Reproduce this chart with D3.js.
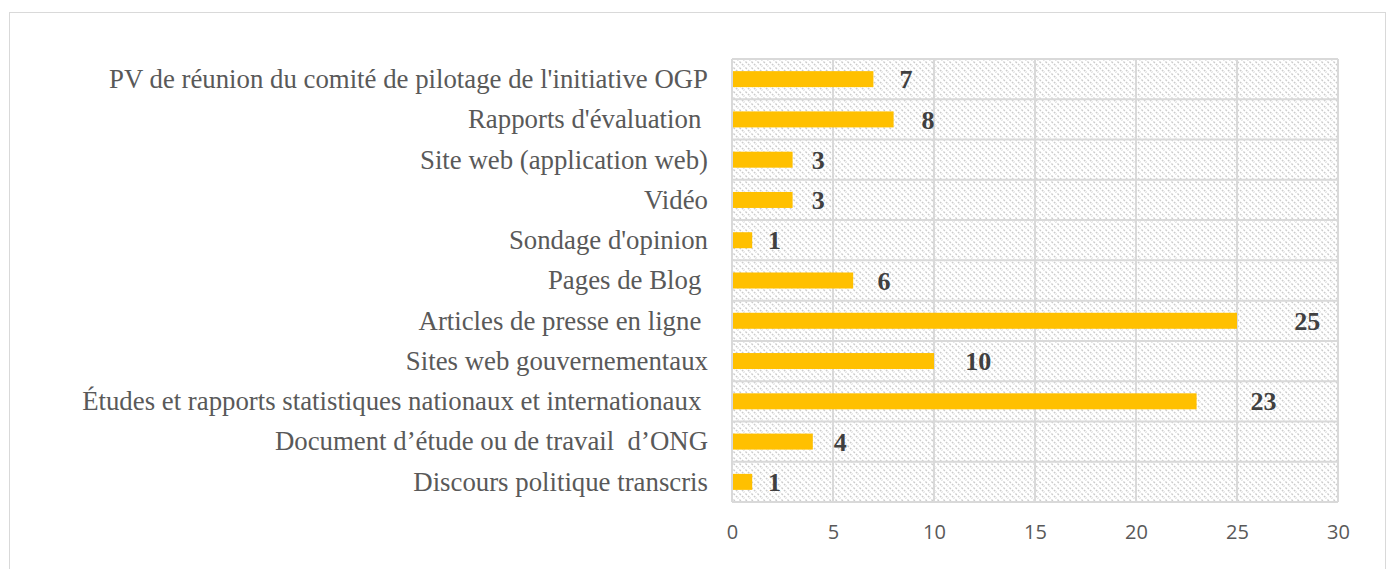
<!DOCTYPE html>
<html>
<head>
<meta charset="utf-8">
<script src="https://cdn.jsdelivr.net/npm/d3@7"></script>
<style>
  body { margin: 0; background: #fff; }
  text { white-space: pre; }
</style>
</head>
<body>
<div id="chart"></div>
<script>

var categories = [
  "PV de réunion du comité de pilotage de l'initiative OGP",
  "Rapports d'évaluation ",
  "Site web (application web)",
  "Vidéo",
  "Sondage d'opinion",
  "Pages de Blog ",
  "Articles de presse en ligne ",
  "Sites web gouvernementaux",
  "Études et rapports statistiques nationaux et internationaux ",
  "Document d’étude ou de travail  d’ONG",
  "Discours politique transcris"
];
var counts = [7, 8, 3, 3, 1, 6, 25, 10, 23, 4, 1];
var tickValues = [0, 5, 10, 15, 20, 25, 30];

var width = 1387, height = 569;
var plot = {left: 732, right: 1338, top: 59, bottom: 502};
var barColor = '#FFC000';
var gridColor = '#d9d9d9';

var svg = d3.select("#chart").append("svg")
  .attr("width", width)
  .attr("height", height);

// hatch pattern for plot background
var defs = svg.append("defs");
var pat = defs.append("pattern")
  .attr("id", "hatch")
  .attr("patternUnits", "userSpaceOnUse")
  .attr("width", 6)
  .attr("height", 6);
pat.append("rect").attr("width", 6).attr("height", 6).attr("fill", "#fff");
pat.append("path")
  .attr("d", "M-1,-1 L7,7 M-1,5 L1,7 M5,-1 L7,1")
  .attr("stroke", "#cccccc")
  .attr("stroke-width", 1.4)
  .attr("stroke-dasharray", "2,1.5");

// outer chart frame
svg.append("rect")
  .attr("x", 9.5).attr("y", 12.5)
  .attr("width", 1376).attr("height", 600)
  .attr("fill", "none")
  .attr("stroke", "#d9d9d9")
  .attr("stroke-width", 1);

var xScale = d3.scaleLinear()
  .domain([0, 30])
  .range([plot.left, plot.right]);

var yScale = d3.scaleBand()
  .domain(categories)
  .range([plot.top, plot.bottom]);

// label positions in Excel drift further out as the value grows
var labelX = d3.scaleLinear()
  .domain([0, 30])
  .range([746, 1404]);

svg.append("rect")
  .attr("x", plot.left).attr("y", plot.top)
  .attr("width", plot.right - plot.left)
  .attr("height", plot.bottom - plot.top)
  .attr("fill", "url(#hatch)");

// vertical grid
svg.append("g")
  .selectAll("line")
  .data(tickValues)
  .enter().append("line")
    .attr("x1", function(d) { return xScale(d); })
    .attr("x2", function(d) { return xScale(d); })
    .attr("y1", plot.top)
    .attr("y2", plot.bottom)
    .attr("stroke", gridColor)
    .attr("stroke-width", 2);

// horizontal grid at category boundaries
var bandH = yScale.bandwidth();
var bounds = categories.map(function(c) { return yScale(c); }).concat([plot.bottom]);
svg.append("g")
  .selectAll("line")
  .data(bounds)
  .enter().append("line")
    .attr("x1", plot.left)
    .attr("x2", plot.right)
    .attr("y1", function(d) { return d; })
    .attr("y2", function(d) { return d; })
    .attr("stroke", gridColor)
    .attr("stroke-width", 2);

var barH = 16;

svg.selectAll(".bar")
  .data(categories)
  .enter().append("rect")
    .attr("class", "bar")
    .attr("x", xScale(0) + 1)
    .attr("y", function(d) { return yScale(d) + (bandH - barH) / 2; })
    .attr("height", barH)
    .attr("width", function(d, i) { return xScale(counts[i]) - xScale(0) - 1; })
    .attr("fill", barColor);

// category labels
svg.selectAll(".cat")
  .data(categories)
  .enter().append("text")
    .attr("class", "cat")
    .attr("x", 708)
    .attr("y", function(d) { return yScale(d) + bandH / 2; })
    .attr("dy", "0.33em")
    .attr("text-anchor", "end")
    .style("font-family", "'Liberation Serif', 'Times New Roman', serif")
    .style("font-size", "26.8px")
    .style("fill", "#595959")
    .text(function(d) { return d; });

// value labels
svg.selectAll(".val")
  .data(counts)
  .enter().append("text")
    .attr("class", "val")
    .attr("x", function(d) { return labelX(d); })
    .attr("y", function(d, i) { return yScale(categories[i]) + bandH / 2; })
    .attr("dy", "0.35em")
    .style("font-family", "'Liberation Serif', 'Times New Roman', serif")
    .style("font-size", "26px")
    .style("font-weight", "bold")
    .style("fill", "#404040")
    .text(function(d) { return d; });

// x axis labels
var xAxis = d3.axisBottom(xScale)
  .tickValues(tickValues)
  .tickSize(0)
  .tickPadding(0);

var ax = svg.append("g")
  .attr("transform", "translate(0," + 525 + ")")
  .call(xAxis);
ax.select(".domain").remove();
ax.selectAll("text")
  .style("font-family", "'Open Sans', 'Liberation Sans', sans-serif")
  .style("font-size", "20px")
  .style("fill", "#595959");

</script>
</body>
</html>
